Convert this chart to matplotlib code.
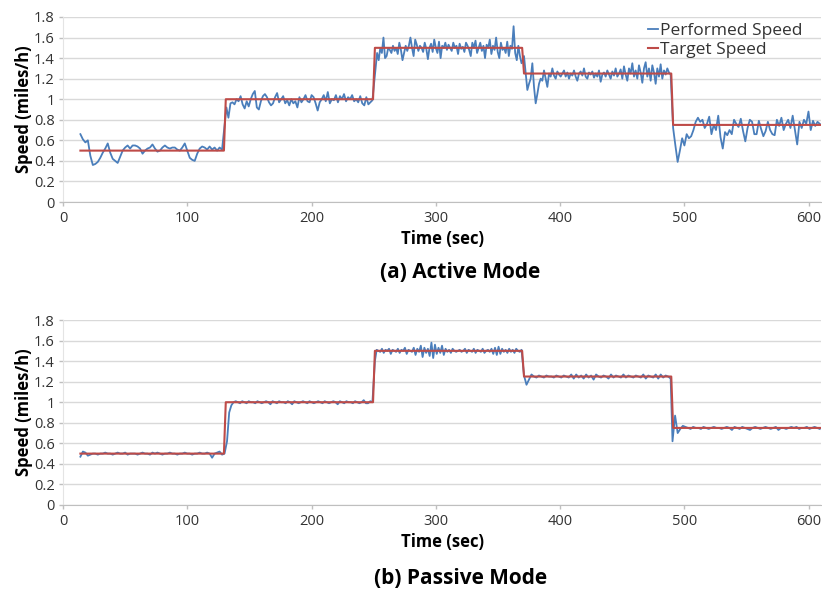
import numpy as np
import matplotlib
matplotlib.use("Agg")
import matplotlib.pyplot as plt

plt.rcParams['font.family'] = ['Open Sans', 'DejaVu Sans']

# ---------------- data: active mode ----------------
# segment time spans (sec) for the performed speed samples
active_spans = [(14, 128), (131.5, 249), (251.5, 369), (371, 489), (491, 609)]
active_seg1 = [0.66, 0.61, 0.58, 0.60, 0.45, 0.36, 0.37, 0.39, 0.43, 0.48, 0.52, 0.57, 0.48, 0.42,
               0.40, 0.38, 0.44, 0.50, 0.53, 0.55, 0.52, 0.55, 0.55, 0.54, 0.52, 0.47, 0.50, 0.52,
               0.53, 0.56, 0.52, 0.49, 0.50, 0.53, 0.55, 0.53, 0.52, 0.53, 0.53, 0.51, 0.50, 0.53,
               0.57, 0.50, 0.43, 0.41, 0.40, 0.47, 0.52, 0.54, 0.53, 0.51, 0.54, 0.51, 0.53, 0.50,
               0.53, 0.51]
active_seg2 = [0.92, 0.82, 0.96, 0.97, 0.95, 1.00, 0.98, 1.03, 0.95, 0.91, 0.98, 0.93, 1.00, 1.05,
               1.08, 0.92, 0.90, 0.98, 1.03, 1.05, 1.02, 0.97, 0.94, 0.96, 1.02, 1.06, 0.97, 1.00,
               1.03, 0.96, 0.99, 0.94, 1.00, 0.96, 0.98, 0.92, 1.02, 0.97, 1.00, 1.04, 0.98, 0.97,
               1.04, 1.02, 0.96, 0.89, 0.97, 1.00, 1.04, 0.98, 1.07, 0.96, 1.00, 0.99, 1.04, 0.97,
               1.03, 1.00, 1.05, 0.98, 1.02, 1.00, 1.04, 0.98, 1.00, 0.97, 1.03, 0.96, 0.94, 1.02,
               0.95, 0.97, 0.99]
active_seg3 = [1.30, 1.45, 1.38, 1.50, 1.45, 1.60, 1.40, 1.42, 1.50, 1.48, 1.45, 1.52, 1.47, 1.50,
               1.44, 1.55, 1.48, 1.38, 1.45, 1.52, 1.47, 1.52, 1.60, 1.50, 1.42, 1.58, 1.53, 1.47,
               1.52, 1.50, 1.46, 1.55, 1.49, 1.39, 1.50, 1.54, 1.46, 1.58, 1.50, 1.45, 1.56, 1.40,
               1.52, 1.50, 1.55, 1.48, 1.53, 1.50, 1.47, 1.55, 1.50, 1.52, 1.44, 1.54, 1.49, 1.51,
               1.46, 1.55, 1.52, 1.48, 1.42, 1.55, 1.50, 1.57, 1.45, 1.50, 1.55, 1.47, 1.52, 1.40,
               1.53, 1.50, 1.58, 1.44, 1.52, 1.48, 1.60, 1.46, 1.40, 1.55, 1.48, 1.50, 1.45, 1.56,
               1.42, 1.52, 1.49, 1.71, 1.45, 1.38, 1.52, 1.42, 1.35]
active_seg4 = [1.42, 1.25, 1.09, 1.15, 1.20, 1.35, 1.12, 0.96, 1.05, 1.15, 1.20, 1.18, 1.28, 1.20,
               1.12, 1.25, 1.22, 1.30, 1.23, 1.20, 1.27, 1.24, 1.22, 1.25, 1.28, 1.22, 1.26, 1.20,
               1.25, 1.23, 1.28, 1.22, 1.18, 1.25, 1.27, 1.23, 1.30, 1.22, 1.20, 1.26, 1.24, 1.27,
               1.21, 1.25, 1.22, 1.28, 1.17, 1.24, 1.26, 1.22, 1.28, 1.24, 1.20, 1.27, 1.23, 1.30,
               1.22, 1.25, 1.29, 1.20, 1.32, 1.24, 1.18, 1.30, 1.25, 1.35, 1.22, 1.28, 1.20, 1.33,
               1.26, 1.16, 1.30, 1.36, 1.22, 1.30, 1.18, 1.33, 1.26, 1.15, 1.30, 1.22, 1.34, 1.20,
               1.28, 1.24, 1.30, 1.26, 1.24]
active_seg5 = [0.72, 0.55, 0.39, 0.50, 0.62, 0.55, 0.66, 0.62, 0.64, 0.70, 0.78, 0.82, 0.78, 0.80,
               0.72, 0.76, 0.83, 0.66, 0.75, 0.70, 0.84, 0.63, 0.52, 0.68, 0.65, 0.70, 0.66, 0.80,
               0.76, 0.73, 0.81, 0.69, 0.59, 0.72, 0.80, 0.78, 0.66, 0.66, 0.79, 0.71, 0.64, 0.69,
               0.78, 0.70, 0.66, 0.65, 0.80, 0.74, 0.82, 0.70, 0.76, 0.80, 0.72, 0.84, 0.70, 0.56,
               0.78, 0.72, 0.80, 0.76, 0.88, 0.70, 0.79, 0.74, 0.78, 0.76]

# ---------------- data: passive mode ----------------
passive_spans = [(14, 130), (132, 249), (251, 369), (371, 489), (490.5, 609)]
passive_seg1 = [0.47, 0.52, 0.51, 0.48, 0.49, 0.50, 0.50, 0.49, 0.50, 0.50, 0.51, 0.50, 0.50, 0.49,
                0.50, 0.51, 0.50, 0.50, 0.51, 0.49, 0.50, 0.50, 0.50, 0.49, 0.50, 0.51, 0.50, 0.50,
                0.49, 0.51, 0.50, 0.51, 0.50, 0.49, 0.50, 0.50, 0.51, 0.50, 0.50, 0.49, 0.50, 0.50,
                0.51, 0.50, 0.50, 0.49, 0.50, 0.50, 0.51, 0.50, 0.50, 0.51, 0.50, 0.46, 0.50, 0.51,
                0.52, 0.49, 0.50]
passive_seg2 = [0.62, 0.90, 0.97, 1.00, 1.01, 1.00, 0.99, 1.01, 1.00, 0.99, 1.01, 1.00, 1.00, 0.99,
                1.01, 1.00, 0.99, 1.00, 1.01, 1.00, 0.98, 1.01, 1.00, 0.99, 1.01, 1.00, 1.00, 0.99,
                1.01, 1.00, 0.98, 1.01, 1.00, 0.99, 1.00, 1.01, 1.00, 0.99, 1.01, 1.00, 0.99, 1.00,
                1.01, 1.00, 0.99, 1.01, 1.00, 0.99, 1.00, 1.01, 1.00, 0.98, 1.01, 1.00, 0.99, 1.01,
                1.00, 1.00, 0.99, 1.01, 1.00, 0.99, 1.00, 1.02, 0.99, 0.99, 1.01, 1.00]
passive_seg3 = [1.40, 1.51, 1.50, 1.49, 1.52, 1.48, 1.51, 1.50, 1.52, 1.47, 1.51, 1.50, 1.49, 1.52,
                1.48, 1.51, 1.50, 1.53, 1.47, 1.51, 1.50, 1.49, 1.53, 1.46, 1.52, 1.49, 1.55, 1.44,
                1.53, 1.48, 1.52, 1.45, 1.58, 1.43, 1.56, 1.47, 1.53, 1.48, 1.55, 1.46, 1.52, 1.49,
                1.51, 1.48, 1.52, 1.50, 1.49, 1.50, 1.51, 1.49, 1.50, 1.52, 1.48, 1.51, 1.50, 1.49,
                1.52, 1.48, 1.51, 1.50, 1.49, 1.52, 1.48, 1.50, 1.51, 1.49, 1.52, 1.47, 1.53, 1.46,
                1.54, 1.47, 1.52, 1.49, 1.51, 1.48, 1.52, 1.49, 1.51, 1.48, 1.52, 1.50, 1.49, 1.51]
passive_seg4 = [1.26, 1.17, 1.22, 1.27, 1.25, 1.24, 1.26, 1.25, 1.24, 1.26, 1.25, 1.25, 1.24, 1.26,
                1.25, 1.24, 1.26, 1.25, 1.24, 1.27, 1.23, 1.27, 1.24, 1.26, 1.23, 1.27, 1.24, 1.26,
                1.22, 1.27, 1.25, 1.24, 1.26, 1.25, 1.23, 1.27, 1.24, 1.26, 1.25, 1.24, 1.27, 1.24,
                1.26, 1.25, 1.24, 1.26, 1.25, 1.24, 1.27, 1.23, 1.26, 1.25, 1.24, 1.27, 1.23, 1.27,
                1.24, 1.26, 1.25, 1.23]
passive_seg5 = [0.62, 0.87, 0.70, 0.74, 0.77, 0.76, 0.75, 0.74, 0.76, 0.75, 0.75, 0.74, 0.76, 0.75,
                0.74, 0.75, 0.76, 0.75, 0.75, 0.74, 0.75, 0.76, 0.75, 0.73, 0.76, 0.75, 0.74, 0.76,
                0.75, 0.74, 0.73, 0.75, 0.76, 0.75, 0.74, 0.75, 0.76, 0.75, 0.74, 0.75, 0.76, 0.73,
                0.75, 0.75, 0.74, 0.75, 0.76, 0.75, 0.76, 0.74, 0.75, 0.75, 0.76, 0.74, 0.75, 0.76,
                0.75, 0.74]

# target speed profile (same for both modes)
target_time = [14, 129.5, 131, 249.5, 251, 369.5, 371, 489.5, 491, 610]
target_speed = [0.5, 0.5, 1.0, 1.0, 1.5, 1.5, 1.25, 1.25, 0.75, 0.75]

yticks = [0, 0.2, 0.4, 0.6, 0.8, 1, 1.2, 1.4, 1.6, 1.8]
ytick_labels = ['0', '0.2', '0.4', '0.6', '0.8', '1', '1.2', '1.4', '1.6', '1.8']
xticks = [0, 100, 200, 300, 400, 500, 600]

BLUE = '#4A7EBB'
RED = '#BE4B48'
GRID = '#D9D9D9'


def build_series(spans, segs):
    t, v = [], []
    for (a, b), vals in zip(spans, segs):
        t.extend(np.linspace(a, b, len(vals)))
        v.extend(vals)
    return np.array(t), np.array(v)


def style_axes(ax):
    ax.set_xlim(0, 610)
    ax.set_ylim(0, 1.8)
    ax.set_yticks(yticks)
    ax.set_yticklabels(ytick_labels)
    ax.set_xticks(xticks)
    ax.grid(True, axis='y', color=GRID, linewidth=1.0)
    ax.grid(False, axis='x')
    ax.set_axisbelow(True)
    for s in ['top', 'right']:
        ax.spines[s].set_visible(False)
    ax.spines['left'].set_color('#E4E4E4')
    ax.spines['bottom'].set_color('#BFBFBF')
    ax.tick_params(axis='both', labelsize=10.5, colors='#BFBFBF', labelcolor='#333333',
                   length=3, width=1)
    ax.tick_params(axis='y', pad=3)
    ax.set_facecolor('white')


fig = plt.figure(figsize=(8.22, 5.92), dpi=100)
ax1 = fig.add_axes([63 / 822, 1 - 202 / 592, 758 / 822, 185 / 592])
ax2 = fig.add_axes([63 / 822, 1 - 505 / 592, 758 / 822, 185 / 592])

t_a, v_a = build_series(active_spans, [active_seg1, active_seg2, active_seg3, active_seg4, active_seg5])
t_p, v_p = build_series(passive_spans, [passive_seg1, passive_seg2, passive_seg3, passive_seg4, passive_seg5])

for ax, t, v in [(ax1, t_a, v_a), (ax2, t_p, v_p)]:
    ax.plot(t, v, color=BLUE, linewidth=1.3, label='Performed Speed')
    ax.plot(target_time, target_speed, color=RED, linewidth=1.5, label='Target Speed')
    style_axes(ax)
    ax.set_ylabel('Speed (miles/h)', fontsize=12, fontweight='bold', labelpad=1)
    ax.set_xlabel('Time (sec)', fontsize=12, fontweight='bold', labelpad=3)

leg = ax1.legend(loc='upper left', bbox_to_anchor=(0.762, 1.005), frameon=False, fontsize=12.5,
                 handlelength=0.6, handletextpad=0.1, labelspacing=0.15, borderaxespad=0)
for txt in leg.get_texts():
    txt.set_color('#333333')

fig.text(0.56, 1 - 272 / 592, '(a) Active Mode', ha='center', va='center',
         fontsize=15, fontweight='bold')
fig.text(0.56, 1 - 578 / 592, '(b) Passive Mode', ha='center', va='center',
         fontsize=15, fontweight='bold')

fig.savefig('out.png', dpi=100)
